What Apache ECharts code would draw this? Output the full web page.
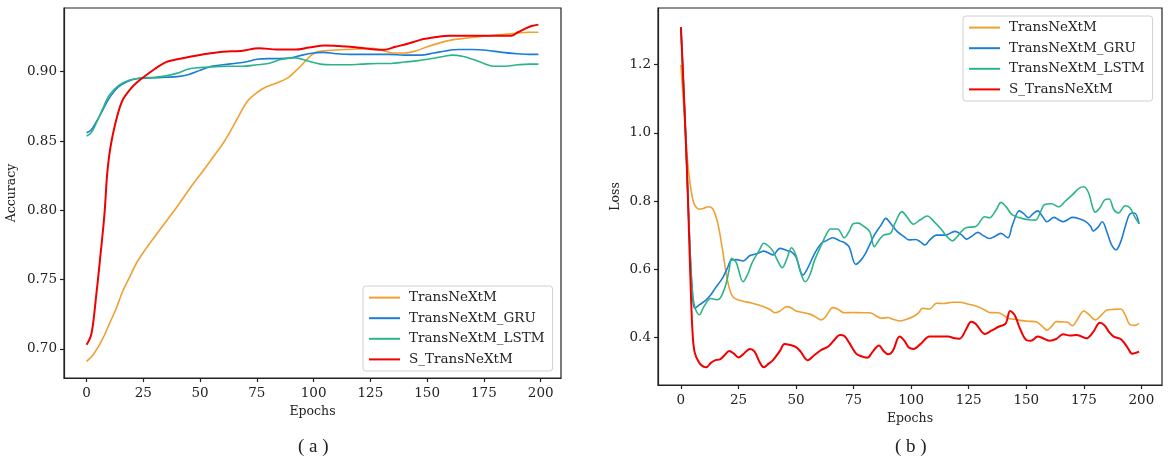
<!DOCTYPE html>
<html>
<head>
<meta charset="utf-8">
<script src="https://cdn.jsdelivr.net/npm/echarts@6/dist/echarts.min.js"></script>
<style>html,body{margin:0;padding:0;background:#fff;}#c{width:1170px;height:465px;}</style>
</head>
<body>
<div id="c"></div>
<script>
const seriesNames = ['TransNeXtM', 'TransNeXtM_GRU', 'TransNeXtM_LSTM', 'S_TransNeXtM'];
const seriesColors = ['#EFA030', '#1C7DD4', '#2CB489', '#F00000'];
const epochTicks = [0, 25, 50, 75, 100, 125, 150, 175, 200];
const accTicks = [0.70, 0.75, 0.80, 0.85, 0.90];
const lossTicks = [0.4, 0.6, 0.8, 1.0, 1.2];

const accTransNeXtM = [[0,0.691],[3,0.696],[7,0.707],[10,0.718],[13,0.729],[16,0.742],[19,0.752],[22,0.762],[26,0.772],[30,0.781],[35,0.792],[40,0.803],[46,0.817],[52,0.830],[56,0.839],[60,0.848],[63,0.856],[67,0.868],[71,0.879],[75,0.885],[79,0.889],[84,0.892],[89,0.896],[93,0.902],[96,0.907],[99,0.912],[102,0.9145],[108,0.9155],[114,0.916],[120,0.9165],[126,0.917],[131,0.915],[135,0.9135],[140,0.9135],[145,0.915],[150,0.918],[156,0.921],[161,0.923],[166,0.924],[171,0.925],[177,0.926],[184,0.927],[190,0.928],[195,0.9285],[199,0.9285]];
const accGRU = [[0,0.856],[2,0.858],[4,0.863],[7,0.872],[10,0.881],[14,0.889],[18,0.893],[22,0.895],[28,0.8955],[35,0.896],[40,0.8965],[45,0.898],[50,0.901],[55,0.904],[60,0.905],[65,0.906],[70,0.907],[75,0.909],[80,0.9095],[85,0.9095],[90,0.910],[95,0.912],[100,0.9135],[104,0.914],[110,0.913],[116,0.9125],[125,0.9125],[133,0.9125],[140,0.912],[147,0.912],[153,0.9135],[158,0.915],[164,0.916],[170,0.916],[176,0.9155],[183,0.914],[190,0.913],[195,0.9125],[199,0.9125]];
const accLSTM = [[0,0.8536],[2,0.856],[4,0.862],[7,0.873],[10,0.883],[14,0.890],[19,0.894],[24,0.8955],[30,0.896],[35,0.897],[40,0.899],[45,0.902],[50,0.903],[55,0.9035],[62,0.904],[69,0.904],[75,0.905],[80,0.906],[86,0.909],[92,0.910],[97,0.908],[103,0.9055],[108,0.905],[115,0.905],[121,0.9055],[128,0.906],[134,0.906],[140,0.907],[146,0.908],[152,0.9095],[157,0.911],[161,0.912],[166,0.911],[170,0.909],[175,0.906],[179,0.904],[184,0.904],[190,0.905],[195,0.9055],[199,0.9055]];
const accS = [[0,0.703],[1,0.706],[2,0.710],[3,0.72],[4,0.735],[5,0.75],[6,0.766],[7,0.782],[8,0.80],[9,0.825],[10,0.84],[11,0.85],[12,0.858],[14,0.871],[16,0.880],[19,0.887],[22,0.892],[25,0.896],[30,0.902],[35,0.907],[40,0.909],[46,0.911],[53,0.913],[60,0.9145],[68,0.915],[76,0.917],[84,0.916],[92,0.916],[98,0.9175],[105,0.919],[111,0.9185],[116,0.918],[122,0.917],[127,0.916],[131,0.9158],[136,0.918],[141,0.920],[147,0.923],[154,0.925],[160,0.926],[166,0.926],[173,0.926],[180,0.926],[187,0.926],[190,0.9285],[193,0.931],[196,0.933],[199,0.934]];

const lossTransNeXtM = [[0,1.20],[1,1.10],[2,1.00],[3,0.91],[4,0.85],[5,0.81],[6,0.788],[8,0.776],[10,0.779],[12,0.783],[14,0.775],[16,0.735],[18,0.66],[20,0.575],[22,0.525],[24,0.512],[27,0.506],[31,0.50],[36,0.49],[39,0.48],[41,0.472],[43,0.477],[46,0.49],[48,0.486],[50,0.477],[53,0.473],[56,0.468],[58,0.462],[61,0.451],[63,0.462],[66,0.487],[68,0.483],[71,0.472],[75,0.473],[79,0.472],[82,0.472],[85,0.462],[87,0.456],[90,0.458],[92,0.453],[95,0.448],[98,0.453],[101,0.461],[103,0.47],[105,0.485],[108,0.483],[111,0.50],[114,0.499],[118,0.503],[121,0.503],[125,0.497],[129,0.49],[132,0.48],[134,0.473],[138,0.472],[140,0.465],[142,0.456],[145,0.453],[148,0.449],[151,0.447],[154,0.446],[157,0.432],[159,0.421],[161,0.432],[163,0.446],[166,0.445],[168,0.444],[170,0.434],[172,0.45],[175,0.477],[177,0.468],[180,0.451],[183,0.468],[185,0.48],[188,0.482],[191,0.483],[193,0.465],[195,0.437],[197,0.435],[199,0.441]];
const lossGRU = [[0,1.31],[1,1.16],[2,1.00],[3,0.82],[4,0.65],[5,0.53],[6,0.485],[8,0.495],[11,0.51],[13,0.525],[15,0.545],[18,0.573],[20,0.60],[22,0.627],[24,0.628],[27,0.624],[30,0.64],[33,0.645],[36,0.653],[40,0.642],[43,0.661],[46,0.655],[48,0.651],[50,0.635],[53,0.583],[55,0.602],[58,0.645],[61,0.676],[63,0.683],[66,0.692],[69,0.683],[71,0.678],[73,0.666],[76,0.614],[78,0.625],[80,0.644],[82,0.672],[84,0.70],[87,0.73],[89,0.749],[91,0.735],[94,0.71],[97,0.695],[99,0.686],[102,0.687],[104,0.68],[106,0.671],[108,0.685],[111,0.70],[115,0.70],[119,0.711],[122,0.70],[124,0.688],[126,0.695],[129,0.708],[131,0.70],[134,0.69],[136,0.695],[139,0.705],[142,0.692],[144,0.73],[147,0.771],[149,0.762],[151,0.751],[153,0.763],[155,0.771],[157,0.755],[159,0.739],[162,0.752],[164,0.745],[166,0.739],[168,0.745],[170,0.752],[173,0.748],[176,0.739],[178,0.725],[179,0.712],[181,0.722],[183,0.739],[185,0.71],[187,0.672],[189,0.657],[191,0.68],[193,0.725],[195,0.762],[197,0.765],[199,0.733]];
const lossLSTM = [[0,1.31],[1,1.16],[2,1.00],[3,0.82],[4,0.65],[5,0.535],[6,0.49],[8,0.466],[10,0.49],[13,0.514],[16,0.51],[19,0.544],[21,0.60],[22,0.632],[24,0.62],[27,0.563],[29,0.585],[31,0.62],[34,0.655],[36,0.676],[38,0.668],[40,0.653],[42,0.625],[44,0.604],[46,0.63],[48,0.663],[50,0.64],[52,0.59],[54,0.563],[56,0.583],[58,0.625],[61,0.671],[63,0.70],[65,0.718],[68,0.718],[71,0.692],[73,0.71],[75,0.734],[77,0.735],[79,0.728],[82,0.71],[84,0.666],[86,0.685],[88,0.70],[91,0.705],[93,0.735],[96,0.769],[98,0.755],[101,0.732],[104,0.745],[107,0.756],[110,0.739],[113,0.718],[115,0.70],[118,0.683],[120,0.695],[122,0.712],[124,0.722],[128,0.725],[132,0.754],[134,0.751],[137,0.775],[139,0.796],[141,0.785],[144,0.759],[148,0.749],[151,0.745],[154,0.744],[156,0.765],[158,0.79],[161,0.792],[164,0.783],[167,0.8],[170,0.818],[173,0.838],[175,0.842],[177,0.825],[180,0.767],[182,0.78],[184,0.803],[186,0.806],[188,0.775],[190,0.765],[193,0.786],[195,0.78],[197,0.755],[199,0.733]];
const lossS = [[0,1.31],[1,1.16],[2,1.00],[3,0.82],[4,0.60],[5,0.42],[6,0.355],[8,0.325],[10,0.313],[11,0.312],[13,0.325],[15,0.333],[17,0.335],[19,0.348],[21,0.36],[23,0.352],[25,0.341],[27,0.35],[30,0.366],[32,0.358],[34,0.33],[36,0.312],[38,0.322],[40,0.333],[43,0.36],[45,0.38],[47,0.378],[50,0.371],[52,0.358],[55,0.333],[58,0.348],[61,0.363],[64,0.373],[67,0.395],[69,0.407],[71,0.404],[73,0.385],[76,0.353],[78,0.345],[81,0.34],[83,0.355],[86,0.376],[88,0.36],[90,0.35],[92,0.36],[95,0.402],[97,0.39],[99,0.37],[101,0.366],[104,0.38],[108,0.402],[112,0.402],[116,0.402],[119,0.397],[121,0.396],[124,0.425],[126,0.446],[128,0.44],[132,0.41],[135,0.42],[138,0.431],[141,0.44],[143,0.477],[145,0.465],[147,0.43],[150,0.392],[152,0.39],[155,0.402],[157,0.398],[160,0.39],[163,0.395],[166,0.409],[169,0.405],[172,0.407],[176,0.397],[179,0.415],[182,0.443],[184,0.435],[186,0.415],[188,0.402],[191,0.395],[194,0.37],[196,0.352],[199,0.358]];

const accData = [accTransNeXtM, accGRU, accLSTM, accS];
const lossData = [lossTransNeXtM, lossGRU, lossLSTM, lossS];

const FONT = 'DejaVu Serif';
const AX = '#222';

function xAxisCfg(gi) {
  return {
    type: 'value', gridIndex: gi, min: -9.95, max: 208.95,
    name: 'Epochs', nameLocation: 'middle', nameGap: 27,
    nameTextStyle: { fontFamily: FONT, fontSize: 12.5, color: AX },
    axisLine: { show: true, onZero: false, lineStyle: { color: AX, width: 1.2 } },
    axisTick: { show: true, length: 4, lineStyle: { color: AX, width: 1.2 }, customValues: epochTicks },
    axisLabel: { fontFamily: FONT, fontSize: 13.5, color: AX, margin: 8, customValues: epochTicks, formatter: v => String(Math.round(v)) },
    splitLine: { show: false }
  };
}
function yAxisCfg(gi, min, max, ticks, dec, name, gap) {
  return {
    type: 'value', gridIndex: gi, min: min, max: max,
    name: name, nameLocation: 'middle', nameGap: gap,
    nameTextStyle: { fontFamily: FONT, fontSize: 12.5, color: AX },
    axisLine: { show: true, onZero: false, lineStyle: { color: AX, width: 1.2 } },
    axisTick: { show: true, length: 4, lineStyle: { color: AX, width: 1.2 }, customValues: ticks },
    axisLabel: { fontFamily: FONT, fontSize: 13.5, color: AX, margin: 7, customValues: ticks, formatter: v => v.toFixed(dec) },
    splitLine: { show: false }
  };
}
function legendCfg(left, top) {
  return {
    data: seriesNames.map((n, i) => ({ name: n, icon: 'rect', itemStyle: { color: seriesColors[i] } })),
    orient: 'vertical', left: left, top: top,
    itemWidth: 31, itemHeight: 2, itemGap: 6.6,
    padding: [4.6, 8, 4.6, 6],
    backgroundColor: 'rgba(255,255,255,0.85)',
    borderColor: '#d0d0d0', borderWidth: 1, borderRadius: 3,
    textStyle: { fontFamily: FONT, fontSize: 13.5, color: AX, lineHeight: 14, padding: [0, 0, 0, 4] },
    selectedMode: false
  };
}

const series = [];
seriesNames.forEach((n, i) => {
  series.push({
    name: n, type: 'line', xAxisIndex: 0, yAxisIndex: 0, data: accData[i],
    smooth: 0.35, symbol: 'none',
    lineStyle: { color: seriesColors[i], width: i === 3 ? 2 : 1.6 },
    itemStyle: { color: seriesColors[i] }, z: 2 + i
  });
});
seriesNames.forEach((n, i) => {
  series.push({
    name: n, type: 'line', xAxisIndex: 1, yAxisIndex: 1, data: lossData[i],
    smooth: 0.35, symbol: 'none',
    lineStyle: { color: seriesColors[i], width: i === 3 ? 2 : 1.6 },
    itemStyle: { color: seriesColors[i] }, z: 2 + i
  });
});

const chart = echarts.init(document.getElementById('c'), null, { renderer: 'canvas' });
chart.setOption({
  backgroundColor: '#fff',
  animation: false,
  grid: [
    { left: 64, right: 609, top: 8, bottom: 87, show: true, borderColor: AX, borderWidth: 1.2, backgroundColor: 'transparent', containLabel: false, outerBoundsMode: 'none' },
    { left: 658, right: 8, top: 8, bottom: 80, show: true, borderColor: AX, borderWidth: 1.2, backgroundColor: 'transparent', containLabel: false, outerBoundsMode: 'none' }
  ],
  xAxis: [xAxisCfg(0), xAxisCfg(1)],
  yAxis: [
    yAxisCfg(0, 0.679, 0.946, accTicks, 2, 'Accuracy', 46),
    yAxisCfg(1, 0.26, 1.3665, lossTicks, 1, 'Loss', 36)
  ],
  legend: [legendCfg(363, 286), legendCfg(963, 16)],
  graphic: [
    { type: 'text', left: 298, top: 438, style: { text: '( a )', fontFamily: 'Liberation Serif', fontSize: 19, fill: '#222' } },
    { type: 'text', left: 895, top: 438, style: { text: '( b )', fontFamily: 'Liberation Serif', fontSize: 19, fill: '#222' } }
  ],
  series: series
});
</script>
</body>
</html>
